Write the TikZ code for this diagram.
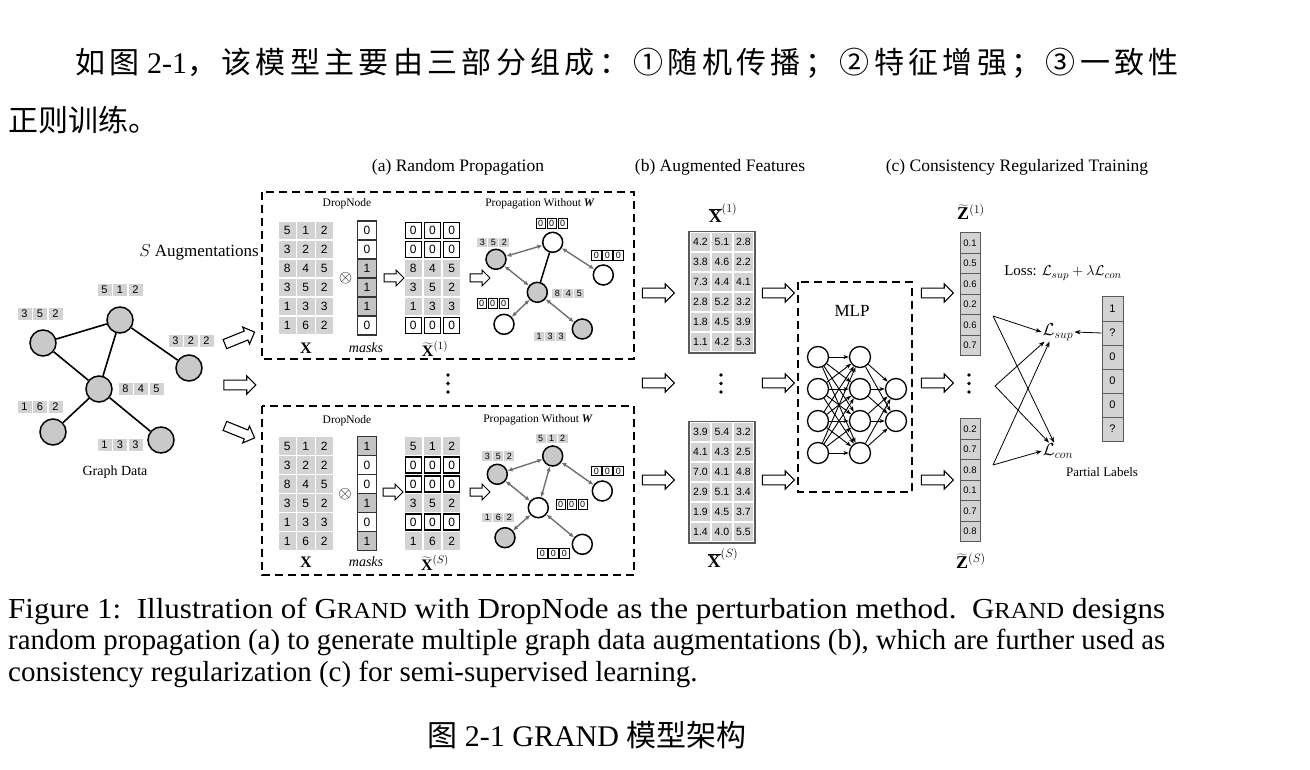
\documentclass[tikz,border=0pt]{standalone}
\usepackage{fontspec}
\usepackage{graphicx}
\setmainfont{Liberation Serif}
\setsansfont{Liberation Sans}
\newfontfamily\cjkfont{Noto Sans CJK SC}
\newfontfamily\cjkwide[LetterSpace=14.5]{Noto Sans CJK SC}
\usetikzlibrary{arrows.meta,shapes.arrows,calc}

\definecolor{cellgray}{HTML}{D3D3D3}
\definecolor{nodegray}{HTML}{C9C9C9}
\definecolor{maskgray}{HTML}{C4C4C4}
\definecolor{arrgray}{HTML}{707070}
\definecolor{boxgray}{HTML}{5A5A5A}

\newcommand\gfs[1]{\fontsize{#1}{#1}\selectfont}
\newcommand\rowthree[8]{%
  \node[#1] (#2-1) at (#4,#3) {#6};
  \node[#1] (#2-2) at ({#4+#5},#3) {#7};
  \node[#1] (#2-3) at ({#4+2*#5},#3) {#8};}

\tikzset{
 gnode/.style={circle,draw,line width=1.5pt,fill=nodegray,minimum size=26pt,inner sep=0pt},
 gedge/.style={line width=1.6pt},
 glab/.style={fill=cellgray,minimum width=14pt,minimum height=12.5pt,inner sep=0pt,font=\sffamily\gfs{11}},
 harrow/.style={single arrow,draw,fill=white,line width=1.1pt,minimum height=32pt,inner xsep=0pt,inner ysep=4.3pt,single arrow head extend=4.3pt},
 sarrow/.style={single arrow,draw,fill=white,line width=1pt,minimum height=20pt,inner xsep=0pt,inner ysep=3.5pt,single arrow head extend=3.8pt},
 dbox/.style={line width=1.6pt,dash pattern=on 8pt off 5pt},
 xg/.style={fill=cellgray,minimum size=17.5pt,inner sep=0pt,font=\sffamily\gfs{12}},
 xb/.style={draw,line width=1.3pt,fill=white,minimum size=16pt,inner sep=0pt,font=\sffamily\gfs{12}},
 m1/.style={draw=black!80,line width=1.1pt,fill=maskgray,minimum width=19pt,minimum height=19pt,inner sep=0pt,font=\sffamily\gfs{12}},
 m0/.style={m1,fill=white},
 pnode/.style={circle,draw,line width=1.5pt,minimum size=20pt,inner sep=0pt},
 pg/.style={pnode,fill=nodegray},
 pw/.style={pnode,fill=white},
 parr/.style={arrgray,line width=1.4pt,{Latex[length=5pt,width=4.5pt]}-{Latex[length=5pt,width=4.5pt]}},
 sg/.style={fill=cellgray,minimum width=10pt,minimum height=9.5pt,inner sep=0pt,font=\sffamily\gfs{9}},
 sb/.style={draw,line width=0.9pt,fill=white,minimum width=9.5pt,minimum height=9.5pt,inner sep=0pt,font=\sffamily\gfs{9}},
 fc/.style={fill=cellgray,minimum width=19.5pt,minimum height=18pt,inner sep=0pt,font=\sffamily\gfs{10.5}},
 zc/.style={draw=boxgray,line width=1pt,fill=cellgray,minimum width=20pt,minimum height=20.5pt,inner sep=0pt,font=\sffamily\gfs{9.5}},
 lc/.style={draw=boxgray,line width=1pt,fill=cellgray,minimum width=21pt,minimum height=24pt,inner sep=0pt,font=\sffamily\gfs{11}},
 mlpn/.style={circle,draw,line width=1.3pt,fill=white,minimum size=21pt,inner sep=0pt},
 marr/.style={line width=0.9pt,-{Stealth[length=5.5pt,width=4pt]}},
 larr/.style={line width=0.8pt,-{Stealth[length=6pt,width=4.5pt]}},
 lbl/.style={font=\gfs{16},inner sep=0pt},
 mlbl/.style={font=\gfs{14},inner sep=0pt},
 biglbl/.style={font=\gfs{18},inner sep=0pt},
 head/.style={font=\gfs{17.5}},
 small/.style={font=\gfs{11.5}},
}

\begin{document}
\begin{tikzpicture}[x=1pt,y=-1pt]
\useasboundingbox (0,0) rectangle (1310,770);

% ---------- top paragraph ----------
\node[anchor=base west,font=\gfs{30},inner sep=0pt] (p1) at (75,74) {{\cjkwide 如图} 2-1{\cjkwide ，该模型主要由三部分组成：①随机传播；②特征增强；③一致性}};
\node[anchor=base west,font=\gfs{30},inner sep=0pt] (p2) at (8,132) {{\cjkfont 正则训练。}};

% ---------- headings ----------
\node[head] (ha) at (458,167) {(a) Random Propagation};
\node[head] (hb) at (720,167) {(b) Augmented Features};
\node[head] (hc) at (1017,167) {(c) Consistency Regularized Training};
\node[font=\gfs{17},anchor=east,inner sep=0pt] (saug) at (259,252) {$S$ Augmentations};

% ---------- graph data ----------
\node[gnode] (gT) at (120,320) {};
\node[gnode] (gL) at (43,343) {};
\node[gnode] (gR) at (189,368) {};
\node[gnode] (gC) at (99,389) {};
\node[gnode] (gBL) at (53,432) {};
\node[gnode] (gBR) at (161,440) {};
\draw[gedge] (gL) -- (gT);
\draw[gedge] (gT) -- (gC);
\draw[gedge] (gT) -- (gR);
\draw[gedge] (gL) -- (gC);
\draw[gedge] (gC) -- (gBL);
\draw[gedge] (gC) -- (gBR);
\rowthree{glab}{lT}{290}{104.5}{15.5}{5}{1}{2}
\rowthree{glab}{lL}{314}{24.5}{15.5}{3}{5}{2}
\rowthree{glab}{lR}{341}{175.5}{15.5}{3}{2}{2}
\rowthree{glab}{lC}{389}{125.5}{15.5}{8}{4}{5}
\rowthree{glab}{lBL}{407}{24.5}{15.5}{1}{6}{2}
\rowthree{glab}{lBR}{445}{104.5}{15.5}{1}{3}{3}
\node[font=\gfs{14}] (gd) at (115,472) {Graph Data};

\node[harrow,rotate=22] (ga1) at (237.5,339) {};
\node[harrow] (ga2) at (237.5,385) {};
\node[harrow,rotate=-22] (ga3) at (237.5,431) {};

% ---------- (a) top box ----------
\draw[dbox] (262,192) rectangle (634,359);
\node[small] (dnA) at (347,204) {DropNode};
\rowthree{xg}{xa1}{230.5}{287.3}{18.5}{5}{1}{2}
\rowthree{xg}{xa2}{249.5}{287.3}{18.5}{3}{2}{2}
\rowthree{xg}{xa3}{268.5}{287.3}{18.5}{8}{4}{5}
\rowthree{xg}{xa4}{287.5}{287.3}{18.5}{3}{5}{2}
\rowthree{xg}{xa5}{306.5}{287.3}{18.5}{1}{3}{3}
\rowthree{xg}{xa6}{325.5}{287.3}{18.5}{1}{6}{2}
\node[font=\gfs{17},inner sep=0pt] (otA) at (345.7,277.7) {$\otimes$};
\node[m0] (ma1) at (367,230.5) {0};
\node[m0] (ma2) at (367,249.5) {0};
\node[m1] (ma3) at (367,268.5) {1};
\node[m1] (ma4) at (367,287.5) {1};
\node[m1] (ma5) at (367,306.5) {1};
\node[m0] (ma6) at (367,325.5) {0};
\node[sarrow] (saA1) at (392,278) {};
\rowthree{xb}{ta1}{230.5}{413.3}{19.2}{0}{0}{0}
\rowthree{xb}{ta2}{249.5}{413.3}{19.2}{0}{0}{0}
\rowthree{xg}{ta3}{268.5}{413.3}{19.2}{8}{4}{5}
\rowthree{xg}{ta4}{287.5}{413.3}{19.2}{3}{5}{2}
\rowthree{xg}{ta5}{306.5}{413.3}{19.2}{1}{3}{3}
\rowthree{xb}{ta6}{325.5}{413.3}{19.2}{0}{0}{0}
\node[lbl] (lxA) at (306,348) {$\mathbf{X}$};
\node[mlbl] (lmA) at (366,348) {$\mathit{masks}$};
\node[lbl] (ltA) at (435,349) {$\widetilde{\mathbf{X}}^{(1)}$};
\node[sarrow] (saA2) at (478,278) {};
\node[small] (pwA) at (540,204) {Propagation Without \textbf{\textit{W}}};
\node[pw] (pAT) at (552.7,242.3) {};
\node[pg] (pAL) at (496,259.3) {};
\node[pw] (pAR) at (603.3,275) {};
\node[pg] (pAC) at (537.3,292.3) {};
\node[pw] (pABL) at (504,324.3) {};
\node[pg] (pABR) at (582.3,329) {};
\draw[line width=1.5pt] (pAT) -- (pAC);
\draw[parr] (pAL) -- (pAT);
\draw[parr] (pAT) -- (pAR);
\draw[parr] (pAL) -- (pAC);
\draw[parr] (pAC) -- (pABL);
\draw[parr] (pAC) -- (pABR);
\rowthree{sb}{sA1}{223.3}{540.7}{11}{0}{0}{0}
\rowthree{sg}{sA2}{242.3}{482.3}{11}{3}{5}{2}
\rowthree{sb}{sA3}{255.7}{596.3}{11}{0}{0}{0}
\rowthree{sg}{sA4}{293.3}{557.3}{11}{8}{4}{5}
\rowthree{sb}{sA5}{303.3}{481.7}{11}{0}{0}{0}
\rowthree{sg}{sA6}{336.7}{539}{11}{1}{3}{3}

% ---------- (a) bottom box ----------
\draw[dbox] (262,406) rectangle (634,575);
\node[small] (dnB) at (347,421) {DropNode};
\rowthree{xg}{xb1}{446}{287.3}{18.5}{5}{1}{2}
\rowthree{xg}{xb2}{465}{287.3}{18.5}{3}{2}{2}
\rowthree{xg}{xb3}{484}{287.3}{18.5}{8}{4}{5}
\rowthree{xg}{xb4}{503}{287.3}{18.5}{3}{5}{2}
\rowthree{xg}{xb5}{522}{287.3}{18.5}{1}{3}{3}
\rowthree{xg}{xb6}{541}{287.3}{18.5}{1}{6}{2}
\node[font=\gfs{17},inner sep=0pt] (otB) at (345,494) {$\otimes$};
\node[m1] (mb1) at (367,446) {1};
\node[m0] (mb2) at (367,465) {0};
\node[m0] (mb3) at (367,484) {0};
\node[m1] (mb4) at (367,503) {1};
\node[m0] (mb5) at (367,522) {0};
\node[m1] (mb6) at (367,541) {1};
\node[sarrow] (saB1) at (391,492) {};
\rowthree{xg}{tb1}{446}{413.3}{19.2}{5}{1}{2}
\rowthree{xb}{tb2}{465}{413.3}{19.2}{0}{0}{0}
\rowthree{xb}{tb3}{484}{413.3}{19.2}{0}{0}{0}
\rowthree{xg}{tb4}{503}{413.3}{19.2}{3}{5}{2}
\rowthree{xb}{tb5}{522}{413.3}{19.2}{0}{0}{0}
\rowthree{xg}{tb6}{541}{413.3}{19.2}{1}{6}{2}
\node[lbl] (lxB) at (306,562) {$\mathbf{X}$};
\node[mlbl] (lmB) at (366,562) {$\mathit{masks}$};
\node[lbl] (ltB) at (435,563) {$\widetilde{\mathbf{X}}^{(S)}$};
\node[sarrow] (saB2) at (478,492) {};
\node[small] (pwB) at (538,420) {Propagation Without \textbf{\textit{W}}};
\node[pg] (pBT) at (552.7,456) {};
\node[pg] (pBL) at (497.3,474.3) {};
\node[pw] (pBR) at (602.3,491) {};
\node[pw] (pBC) at (538.3,507.7) {};
\node[pg] (pBBL) at (505,537.7) {};
\node[pw] (pBBR) at (582.3,544.3) {};
\draw[parr] (pBL) -- (pBT);
\draw[parr] (pBT) -- (pBR);
\draw[parr] (pBL) -- (pBC);
\draw[parr] (pBC) -- (pBT);
\draw[parr] (pBC) -- (pBBL);
\draw[parr] (pBC) -- (pBBR);
\rowthree{sg}{sB1}{438.3}{540.7}{11}{5}{1}{2}
\rowthree{sg}{sB2}{456}{487.3}{11}{3}{5}{2}
\rowthree{sb}{sB3}{471}{596.3}{11}{0}{0}{0}
\rowthree{sb}{sB4}{504.3}{560.7}{11}{0}{0}{0}
\rowthree{sg}{sB5}{517.7}{487.3}{11}{1}{6}{2}
\rowthree{sb}{sB6}{553.3}{542.3}{11}{0}{0}{0}

\foreach \yy in {375,383.5,392} \fill (448,\yy) circle (1.8pt);

% ---------- (b) augmented features ----------
\node[biglbl] (xbar1) at (723,213) {$\overline{\mathbf{X}}^{(1)}$};
\draw[draw=boxgray,line width=1.5pt,fill=white] (689,231.5) rectangle (755,353);
\rowthree{fc}{fa1}{242}{700.5}{21.5}{4.2}{5.1}{2.8}
\rowthree{fc}{fa2}{262}{700.5}{21.5}{3.8}{4.6}{2.2}
\rowthree{fc}{fa3}{282}{700.5}{21.5}{7.3}{4.4}{4.1}
\rowthree{fc}{fa4}{302}{700.5}{21.5}{2.8}{5.2}{3.2}
\rowthree{fc}{fa5}{322}{700.5}{21.5}{1.8}{4.5}{3.9}
\rowthree{fc}{fa6}{342}{700.5}{21.5}{1.1}{4.2}{5.3}
\draw[draw=boxgray,line width=1.5pt,fill=white] (689,421.5) rectangle (755,543);
\rowthree{fc}{fb1}{432}{700.5}{21.5}{3.9}{5.4}{3.2}
\rowthree{fc}{fb2}{452}{700.5}{21.5}{4.1}{4.3}{2.5}
\rowthree{fc}{fb3}{472}{700.5}{21.5}{7.0}{4.1}{4.8}
\rowthree{fc}{fb4}{492}{700.5}{21.5}{2.9}{5.1}{3.4}
\rowthree{fc}{fb5}{512}{700.5}{21.5}{1.9}{4.5}{3.7}
\rowthree{fc}{fb6}{532}{700.5}{21.5}{1.4}{4.0}{5.5}
\node[biglbl] (xbarS) at (723,558) {$\overline{\mathbf{X}}^{(S)}$};
\foreach \yy in {375,383.5,392} \fill (721,\yy) circle (1.8pt);

\node[harrow] (ba1) at (656,293) {};
\node[harrow] (ba2) at (656,383) {};
\node[harrow] (ba3) at (656,480) {};
\node[harrow] (ca1) at (776,293) {};
\node[harrow] (ca2) at (776,383) {};
\node[harrow] (ca3) at (776,480) {};

% ---------- MLP ----------
\draw[dbox] (798,282) rectangle (912,492);
\node[font=\gfs{17}] (mlp) at (852,311) {MLP};
\foreach \i/\yy in {1/357,2/389,3/421,4/453} {
  \node[mlpn] (n1-\i) at (818,\yy) {};
  \node[mlpn] (n2-\i) at (860,\yy) {};
}
\node[mlpn] (n3-1) at (896,389) {};
\node[mlpn] (n3-2) at (896,421) {};
\foreach \i in {1,...,4} {
  \foreach \j in {1,...,4} \draw[marr] (n1-\i) -- (n2-\j);
  \foreach \j in {1,2} \draw[marr] (n2-\i) -- (n3-\j);
}

% ---------- (c) ----------
\node[harrow] (za1) at (935,293) {};
\node[harrow] (za2) at (935,383) {};
\node[harrow] (za3) at (935,480) {};
\node[biglbl] (z1) at (971,212) {$\widetilde{\mathbf{Z}}^{(1)}$};
\node[zc] (zA1) at (970,243) {0.1};
\node[zc] (zA2) at (970,263.5) {0.5};
\node[zc] (zA3) at (970,284) {0.6};
\node[zc] (zA4) at (970,304.5) {0.2};
\node[zc] (zA5) at (970,325) {0.6};
\node[zc] (zA6) at (970,345.5) {0.7};
\node[zc] (zB1) at (970,429) {0.2};
\node[zc] (zB2) at (970,449.5) {0.7};
\node[zc] (zB3) at (970,470) {0.8};
\node[zc] (zB4) at (970,490.5) {0.1};
\node[zc] (zB5) at (970,511) {0.7};
\node[zc] (zB6) at (970,531.5) {0.8};
\node[biglbl] (zS) at (971,561) {$\widetilde{\mathbf{Z}}^{(S)}$};
\foreach \yy in {375,383.5,392} \fill (969,\yy) circle (1.8pt);

\node[font=\gfs{15}] (loss) at (1063,273) {Loss: $\mathcal{L}_{sup}+\lambda\mathcal{L}_{con}$};
\node[font=\gfs{17},inner sep=1pt] (Lsup) at (1058,332) {$\mathcal{L}_{sup}$};
\node[font=\gfs{17},inner sep=1pt] (Lcon) at (1058,451) {$\mathcal{L}_{con}$};
\node[lc] (pl1) at (1112.5,309) {1};
\node[lc] (pl2) at (1112.5,333) {?};
\node[lc] (pl3) at (1112.5,357) {0};
\node[lc] (pl4) at (1112.5,381) {0};
\node[lc] (pl5) at (1112.5,405) {0};
\node[lc] (pl6) at (1112.5,429) {?};
\node[font=\gfs{13}] (plab) at (1102,472) {Partial Labels};
\draw[larr] (pl2.west) -- (Lsup.east);

\coordinate (P1) at (993,316);
\coordinate (P2) at (995,386);
\coordinate (P3) at (993,465);
\draw[larr] (P1) -- (Lsup.west);
\draw[larr] (P1) -- ([xshift=-4pt]Lcon.north);
\draw[larr] (P2) -- ([xshift=3pt]Lsup.south west);
\draw[larr] (P2) -- ([xshift=-9pt]Lcon.north);
\draw[larr] (P3) -- ([xshift=8pt]Lsup.south west);
\draw[larr] (P3) -- (Lcon.west);

% ---------- caption ----------
\node[anchor=base west,font=\gfs{29},inner sep=0pt] (c1) at (8,618) {\resizebox{1157pt}{\height}{Figure 1:\enspace Illustration of G{\gfs{23}RAND} with DropNode as the perturbation method.\ \ G{\gfs{23}RAND} designs}};
\node[anchor=base west,font=\gfs{29},inner sep=0pt] (c2) at (8,649) {\resizebox{1157pt}{\height}{random propagation (a) to generate multiple graph data augmentations (b), which are further used as}};
\node[anchor=base west,font=\gfs{29},inner sep=0pt] (c3) at (8,681) {consistency regularization (c) for semi-supervised learning.};
\node[anchor=base,font=\gfs{30},inner sep=0pt] (cap) at (587,746) {{\cjkfont 图} 2-1 GRAND {\cjkfont 模型架构}};
\end{tikzpicture}
\end{document}
